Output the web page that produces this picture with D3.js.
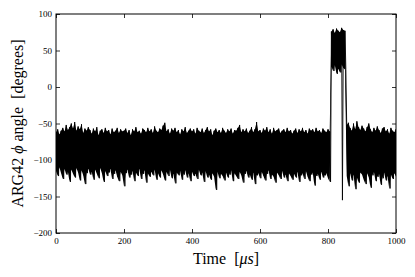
<!DOCTYPE html>
<html>
<head>
<meta charset="utf-8">
<script src="https://cdn.jsdelivr.net/npm/d3@7"></script>
<style>
  html, body { margin: 0; padding: 0; background: #fff; }
  svg { display: block; }
  text { font-family: "Liberation Serif", "DejaVu Serif", serif; fill: #000; white-space: pre; }
</style>
</head>
<body>
<svg id="chart" width="415" height="277"></svg>
<script>
// Sample times (μs), step 5
const times = d3.range(0, 1001, 5);
// Upper envelope (local maxima) of the φ angle trace, degrees
const peaks = [
  -62,-58,-65,-60,-56,-61,-52,-59,-55,-50,-57,-48,-60,-54,-58,-51,-63,-57,-60,-55,
  -59,-64,-57,-61,-55,-66,-60,-58,-63,-56,-61,-59,-65,-57,-62,-60,-56,-63,-58,-61,
  -60,-57,-63,-59,-66,-58,-61,-55,-62,-60,-64,-57,-59,-62,-56,-61,-58,-63,-54,-60,
  -62,-57,-59,-53,-49,-61,-58,-64,-57,-60,-56,-62,-59,-65,-58,-61,-55,-63,-60,-57,
  -61,-58,-64,-56,-60,-62,-57,-63,-59,-55,-61,-58,-66,-60,-57,-62,-59,-63,-56,-60,
  -63,-58,-61,-57,-64,-59,-60,-56,-52,-62,-58,-61,-57,-63,-60,-55,-62,-58,-48,-61,
  -59,-63,-57,-60,-55,-62,-58,-64,-56,-61,-59,-57,-63,-60,-58,-62,-56,-61,-59,-64,
  -60,-57,-63,-58,-61,-56,-62,-59,-64,-57,-60,-58,-62,-56,-61,-59,-63,-57,-60,-62,
  -58,-61, 76, 79, 74, 80, 77, 75, 81, 78, 77,-52,-49,-56,-60,-50,-58,-47,-55,-59,
  -53,-57,-61,-55,-50,-58,-62,-56,-60,-54,-59,-63,-57,-55,-61,-58,-64,-56,-60,-62,
  -58
];
// Lower envelope (local minima) of the trace, degrees
const troughs = [
  -115,-122,-110,-118,-126,-112,-120,-116,-130,-113,-119,-124,-111,-117,-128,-114,-121,-133,-118,-112,
  -120,-116,-127,-113,-119,-125,-111,-118,-130,-115,-122,-117,-112,-126,-119,-114,-123,-129,-116,-121,
  -136,-118,-113,-124,-120,-115,-129,-117,-122,-112,-126,-119,-114,-131,-118,-123,-116,-121,-113,-127,
  -118,-124,-114,-120,-128,-116,-122,-113,-125,-119,-132,-117,-121,-115,-127,-120,-114,-124,-118,-129,
  -116,-122,-119,-126,-113,-121,-117,-130,-115,-124,-120,-127,-118,-123,-141,-116,-125,-119,-122,-128,
  -117,-124,-120,-114,-129,-118,-122,-126,-116,-121,-131,-119,-115,-124,-120,-127,-117,-133,-121,-118,
  -125,-116,-122,-128,-119,-114,-126,-120,-123,-131,-117,-121,-126,-115,-124,-120,-129,-118,-122,-127,
  -119,-124,-116,-130,-121,-118,-126,-115,-123,-129,-120,-117,-135,-122,-119,-127,-116,-124,-121,-118,
  -125,-130,  28,  22,  30,  18,  25,  20,-155,  26,  24,-122,-136,-118,-128,-120,-140,-124,-131,-117,
  -120,-127,-133,-118,-124,-138,-121,-116,-129,-123,-119,-134,-125,-117,-128,-122,-139,-120,-126,-118,
  -123
];
const xTicks = [0, 200, 400, 600, 800, 1000];
const yTicks = [-200, -150, -100, -50, 0, 50, 100];

const svg = d3.select("#chart");
const m = { left: 56, right: 396, top: 14, bottom: 233 };
const x = d3.scaleLinear().domain([0, 1000]).range([m.left, m.right]);
const y = d3.scaleLinear().domain([-200, 100]).range([m.bottom, m.top]);

// Build trace: alternate peak at t, trough at t + 2.5
const trace = [];
times.forEach((t, i) => {
  trace.push([t, peaks[i]]);
  trace.push([t + 2.5, troughs[i]]);
});

svg.append("clipPath").attr("id", "clip")
  .append("rect").attr("x", m.left).attr("y", m.top)
  .attr("width", m.right - m.left).attr("height", m.bottom - m.top);

const plot = svg.append("g").attr("clip-path", "url(#clip)");

// Dense band between envelopes (excluding the single-sample dip)
const band = times.map((t, i) => ({ t, hi: peaks[i], lo: troughs[i] }));
plot.append("path")
  .datum(band)
  .attr("fill", "#000")
  .attr("stroke", "none")
  .attr("d", d3.area()
    .x(d => x(d.t))
    .y0(d => y(d.lo === d3.min(troughs) ? d.hi - 50 : d.lo))
    .y1(d => y(d.hi))
    .defined((d, i) => true));

plot.append("path")
  .datum(trace)
  .attr("fill", "none")
  .attr("stroke", "#000")
  .attr("stroke-width", 0.9)
  .attr("stroke-linejoin", "miter")
  .attr("d", d3.line().x(d => x(d[0])).y(d => y(d[1])));

// Axes with inward ticks
const fmt = d3.format("");
const tl = 4;
const axB = svg.append("g").attr("transform", `translate(0,${m.bottom})`)
  .call(d3.axisBottom(x).tickValues(xTicks).tickSize(-tl).tickPadding(5).tickFormat(fmt));
const axT = svg.append("g").attr("transform", `translate(0,${m.top})`)
  .call(d3.axisTop(x).tickValues(xTicks).tickSize(-tl).tickFormat(""));
const axL = svg.append("g").attr("transform", `translate(${m.left},0)`)
  .call(d3.axisLeft(y).tickValues(yTicks).tickSize(-tl).tickPadding(4).tickFormat(fmt));
const axR = svg.append("g").attr("transform", `translate(${m.right},0)`)
  .call(d3.axisRight(y).tickValues(yTicks).tickSize(-tl).tickFormat(""));
[axB, axT, axL, axR].forEach(g => {
  g.select(".domain").remove();
  g.selectAll(".tick line").attr("stroke", "#000").attr("stroke-width", 0.8);
  g.selectAll("text").attr("font-family", "'Liberation Serif', serif").attr("font-size", 9).attr("fill", "#000");
});

svg.append("rect")
  .attr("x", m.left).attr("y", m.top)
  .attr("width", m.right - m.left).attr("height", m.bottom - m.top)
  .attr("fill", "none").attr("stroke", "#000").attr("stroke-width", 1);

// Axis labels
const xl = svg.append("text")
  .attr("x", (m.left + m.right) / 2).attr("y", 264)
  .attr("text-anchor", "middle").attr("font-size", 16);
xl.append("tspan").text("Time  [");
xl.append("tspan").attr("font-style", "italic").text("μs");
xl.append("tspan").text("]");

const yl = svg.append("text")
  .attr("transform", `translate(23,${(m.top + m.bottom) / 2}) rotate(-90)`)
  .attr("text-anchor", "middle").attr("font-size", 16);
yl.append("tspan").text("ARG42 ");
yl.append("tspan").attr("font-style", "italic").text("ϕ");
yl.append("tspan").text(" angle  [degrees]");
</script>
</body>
</html>
